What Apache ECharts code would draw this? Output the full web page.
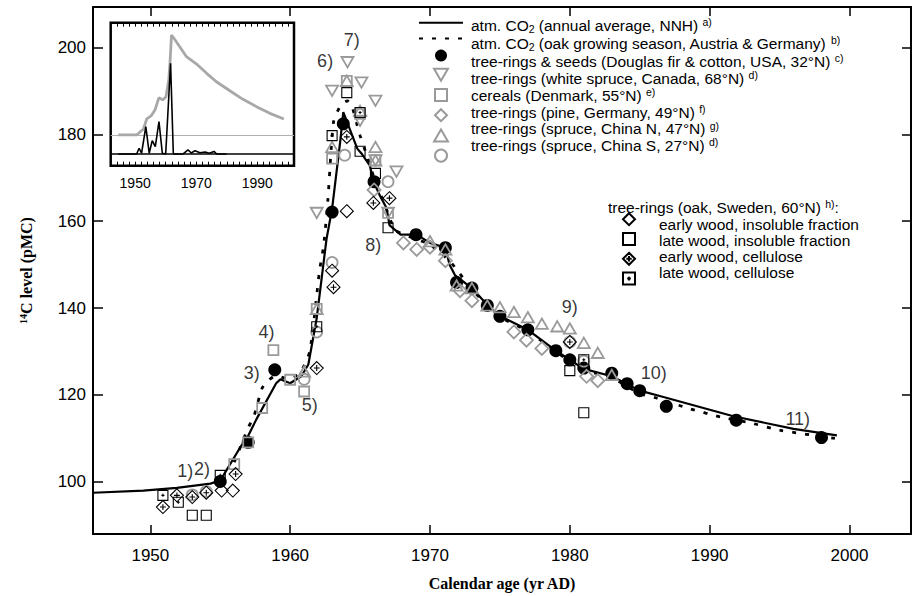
<!DOCTYPE html>
<html><head><meta charset="utf-8">
<script src="https://cdn.jsdelivr.net/npm/echarts@6/dist/echarts.min.js"></script>
<style>html,body{margin:0;padding:0;background:#fff}#c{width:912px;height:596px}</style>
</head><body><div id="c"></div>
<script>
// ---- tick labels ----
const xTicks = [1950, 1960, 1970, 1980, 1990, 2000];
const yTicks = [100, 120, 140, 160, 180, 200];
const insetXLabels = [1950, 1970, 1990];

// ---- main panel: [year, 14C pMC] ----
const nnhAnnual = [[1945.9,97.5],[1949.5,98.0],[1951.9,98.6],[1954.3,99.6],[1955.0,100.3],[1956.5,108.3],[1957.0,110.6],[1957.6,114.5],[1959.0,122.7],[1959.3,123.6],[1960.0,122.7],[1960.8,124.3],[1961.3,127.0],[1961.9,137.7],[1962.6,155.9],[1963.0,162.9],[1963.6,178.9],[1963.8,185.1],[1964.8,176.7],[1965.1,175.6],[1965.7,172.8],[1965.95,169.2],[1966.4,166.0],[1966.9,163.0],[1967.1,159.1],[1967.9,156.9],[1969.05,156.9],[1970.0,155.0],[1971.1,153.9],[1971.4,150.0],[1971.8,147.5],[1973.0,144.6],[1974.1,140.7],[1975.0,138.2],[1977.0,135.0],[1979.0,130.2],[1980.0,128.1],[1981.0,126.0],[1983.0,124.3],[1985.0,121.0],[1986.5,119.7],[1991.7,115.1],[1996.0,112.2],[1999.1,110.7]];
const oakSeason = [[1956.0,104.5],[1956.5,108.5],[1957.0,112.5],[1957.4,115.0],[1958.0,121.6],[1958.5,123.5],[1959.0,124.5],[1959.5,124.0],[1960.0,123.8],[1960.7,125.0],[1961.4,130.0],[1962.1,148.6],[1962.4,154.5],[1962.7,165.0],[1963.1,182.8],[1963.6,186.6],[1964.1,187.7],[1964.4,186.6],[1964.8,182.0],[1965.0,179.7],[1965.5,175.0],[1966.0,170.0],[1966.8,163.5],[1967.5,158.0],[1968.5,156.5],[1970.0,154.6],[1971.5,150.5],[1973.0,144.3],[1975.0,138.0],[1977.0,134.7],[1979.0,130.0],[1981.0,125.8],[1983.0,124.0],[1985.0,120.3],[1986.2,119.3],[1988.4,117.0],[1990.8,114.9],[1992.9,113.6],[1995.0,111.9],[1999.0,110.0]];
const usaTreeSeeds = [[1955,100.1],[1957,109.1],[1958.9,125.8],[1963,162.1],[1963.8,182.4],[1966,169.1],[1969,156.9],[1971.1,153.9],[1971.9,145.9],[1973,144.6],[1974.1,140.6],[1975,138.1],[1977,135.0],[1979,130.2],[1980,128.1],[1981,126.2],[1983,125.0],[1984.1,122.6],[1985,121.0],[1986.9,117.4],[1991.9,114.2],[1998,110.2]];
const canadaSpruce = [[1964.1,196.6],[1963.0,190.0],[1965.1,191.9],[1966.1,187.7],[1965.0,183.1],[1967.6,171.4],[1961.9,161.9],[1966.1,174.0],[1967.0,161.9]];
const denmarkCereals = [[1956.0,104.1],[1957.0,109.1],[1958.0,117.0],[1958.8,130.3],[1960.0,123.5],[1961.0,120.8],[1961.9,139.8],[1963.0,174.4],[1964.05,192.3],[1965.0,184.7],[1966.1,174.0],[1967.0,161.9]];
const germanyPine = [[1966.0,167.2],[1968.1,155.0],[1969.05,153.5],[1970.0,154.0],[1971.1,150.9],[1972.15,144.0],[1973.0,141.7],[1976.0,134.5],[1976.9,132.6],[1978.0,130.7],[1981.2,124.3],[1982.0,123.3]];
const chinaNSpruce = [[1964.05,192.3],[1963.0,177.1],[1966.1,177.1],[1965.0,185.4],[1966.1,174.0],[1961.9,139.8],[1961.0,125.4],[1970.0,155.4],[1971.1,153.5],[1971.9,145.2],[1973.0,144.6],[1974.1,140.6],[1975.0,140.2],[1976.0,139.1],[1977.0,137.9],[1978.0,136.4],[1979.1,135.8],[1980.0,135.3],[1981.0,132.0],[1982.0,129.7],[1983.0,124.6]];
const chinaSSpruce = [[1963.9,175.2],[1967.0,169.1],[1963.0,150.5],[1961.9,134.5],[1961.0,123.6],[1954.0,97.8],[1953.0,97.0],[1980.0,132.2],[1981.0,127.8]];
const swedenEarlyInsol = [[1955.1,98.0],[1955.9,98.0],[1963.0,148.6],[1964.05,162.3]];
const swedenLateInsol = [[1953.0,92.3],[1954.0,92.3],[1964.05,189.6],[1965.0,176.1],[1966.1,171.0],[1967.0,158.5],[1980.0,125.6],[1981.0,115.9]];
const swedenEarlyCell = [[1950.9,94.2],[1951.9,96.9],[1953.0,96.5],[1954.0,97.5],[1956.1,101.8],[1961.9,126.2],[1963.1,144.8],[1964.05,179.4],[1965.95,164.2],[1967.1,165.3],[1980.0,132.2]];
const swedenLateCell = [[1950.9,96.9],[1952.0,95.3],[1955.0,101.5],[1961.9,135.7],[1963.0,179.7],[1965.0,185.0],[1981.0,128.1]];
const notes = [[1952.5,102.6,'1)'],[1953.7,103.0,'2)'],[1957.25,125.0,'3)'],[1958.3,134.5,'4)'],[1961.4,117.8,'5)'],[1962.5,196.8,'6)'],[1964.4,201.8,'7)'],[1965.95,154.6,'8)'],[1980.0,140.2,'9)'],[1986.0,125.0,'10)'],[1996.3,114.5,'11)']];

// ---- inset: [year, relative level] ----
const insetAtmos = [[1944.5,21.5],[1950.5,21.5],[1951.6,23.6],[1952.7,25.5],[1953.8,32.7],[1955.2,34.8],[1956.5,39.0],[1957.8,47.6],[1959.0,46.0],[1960.1,48.3],[1961.0,59.9],[1961.4,71.6],[1961.9,91.4],[1962.7,89.1],[1964.6,83.2],[1966.8,76.2],[1970.1,71.1],[1973.4,64.6],[1976.6,58.7],[1981.0,52.4],[1985.3,46.4],[1989.7,41.3],[1994.1,36.6],[1998.7,32.7]];
const insetTests = [[1944.5,8.2],[1950.5,8.2],[1951.3,12.2],[1952.1,8.7],[1953.5,27.3],[1954.6,8.7],[1955.6,17.5],[1956.6,13.3],[1957.8,30.8],[1958.9,8.7],[1960.0,8.2],[1961.6,71.6],[1962.5,8.2],[1965.7,8.2],[1967.3,11.0],[1968.4,8.9],[1969.6,10.5],[1971.2,9.1],[1972.9,9.6],[1974.3,8.7],[1975.8,10.0],[1976.7,8.2],[1979.9,8.2]];
const insetAtmosBase = 21.5;
const insetTestsBase = 8.2;

// ---- names ----
const N = {
  nnh: 'atm. CO2 (annual average, NNH) a)',
  oak: 'atm. CO2 (oak growing season, Austria & Germany) b)',
  usa: 'tree-rings & seeds (Douglas fir & cotton, USA, 32°N) c)',
  can: 'tree-rings (white spruce, Canada, 68°N) d)',
  den: 'cereals (Denmark, 55°N) e)',
  ger: 'tree-rings (pine, Germany, 49°N) f)',
  chn: 'tree-rings (spruce, China N, 47°N) g)',
  chs: 'tree-rings (spruce, China S, 27°N) d)',
  s1: 'early wood, insoluble fraction',
  s2: 'late wood, insoluble fraction',
  s3: 'early wood, cellulose',
  s4: 'late wood, cellulose'
};
const legend1Names = [N.nnh, N.oak, N.usa, N.can, N.den, N.ger, N.chn, N.chs];
const legend2Names = [N.s1, N.s2, N.s3, N.s4];

const SANS = 'Liberation Sans, Arial, Helvetica, sans-serif';
const SERIF = 'Liberation Serif, Times New Roman, serif';
const GRAY = '#9a9a9a';
const SQ = 'path://M0,0L20,0L20,20L0,20Z';
const DIA = 'path://M10,0L20,10L10,20L0,10Z';
const TRI_UP = 'path://M10,0L20,17.3L0,17.3Z';
const TRI_DOWN = 'path://M0,0L20,0L10,17.3Z';
const DIA_PLUS = 'path://M10,0L20,10L10,20L0,10Z M10,5.5L10,14.5 M5.5,10L14.5,10';
const SQ_DOT = 'path://M0,0L20,0L20,20L0,20Z M10,7L10,13 M7,10L13,10';

function fmtLegend(name) {
  const m = name.match(/^(.*) ([a-h]\))$/);
  if (!m) return '{t|' + name + '}';
  const base = m[1].replace('CO2', 'CO}{sub|2}{t|');
  return '{t|' + base + ' }{sup|' + m[2] + '}';
}
const FS = 15.5;
function rich(lh) {
  return {
    t: {fontSize: FS, fontFamily: SANS, fontWeight: 'normal', color: '#000', lineHeight: lh},
    sub: {fontSize: 10.5, fontFamily: SANS, fontWeight: 'normal', color: '#000', lineHeight: 6, verticalAlign: 'bottom'},
    sup: {fontSize: 10.5, fontFamily: SANS, fontWeight: 'normal', color: '#000', lineHeight: 7, verticalAlign: 'top'}
  };
}
function iconLegend(names, left, top, w, gap) {
  return {
    orient: 'vertical', left, top, itemWidth: w, itemHeight: 12, itemGap: gap,
    selectedMode: false, padding: 0,
    data: names.map(n => (n === N.nnh || n === N.oak) ? {name: n, itemStyle: {opacity: 0}} : {name: n}),
    formatter: () => '', textStyle: {fontSize: 1, lineHeight: 1}
  };
}
function textLegend(names, left, top, lh) {
  return {
    orient: 'vertical', left, top, itemWidth: 2, itemHeight: 2, itemGap: 0,
    selectedMode: false, padding: 0,
    data: names.map(n => ({name: n, itemStyle: {opacity: 0}, lineStyle: {opacity: 0}})),
    formatter: fmtLegend, textStyle: {rich: rich(lh)}
  };
}

function scatter(name, data, symbol, size, stroke, width, fill, z) {
  return {
    name, type: 'scatter', data, symbol, symbolSize: size, symbolKeepAspect: true,
    xAxisIndex: 0, yAxisIndex: 0, z: z || 3,
    itemStyle: {color: fill || 'rgba(255,255,255,0)', borderColor: stroke, borderWidth: width, opacity: 1},
    emphasis: {disabled: true}, silent: true
  };
}
const yearFmt = v => String(v);
const LH = 17.8;

const chart = echarts.init(document.getElementById('c'), null, {renderer: 'svg'});
const option = {
  backgroundColor: '#fff',
  animation: false,
  grid: [
    {left: 93, top: 7, right: 1, bottom: 57, show: false},
    {left: 110.7, top: 22.7, width: 183.3, height: 143, show: true, borderColor: '#000', borderWidth: 2.5, backgroundColor: '#fff', z: 5}
  ],
  title: [{
    text: '{t|tree-rings (oak, Sweden, 60°N) }{sup|h)}{t|:}',
    left: 608, top: 207.4 - LH / 2, padding: 0,
    textStyle: {rich: rich(LH)}
  }],
  legend: [
    iconLegend(legend1Names, 418, 18, 44, 6.2),
    textLegend(legend1Names, 463, 25.7 - LH / 2, LH),
    iconLegend(legend2Names, 622, 212.2, 12, LH - 12),
    textLegend(legend2Names, 651, 225.2 - LH / 2, LH)
  ],
  xAxis: [
    {
      gridIndex: 0, type: 'value', min: 1945.9, max: 2004.4, position: 'bottom',
      name: 'Calendar age (yr AD)', nameLocation: 'middle', nameGap: 41,
      nameTextStyle: {fontFamily: SERIF, fontWeight: 'bold', fontSize: 16, color: '#000'},
      axisLine: {onZero: false, lineStyle: {color: '#000', width: 2}},
      axisTick: {inside: true, length: 9, customValues: xTicks, lineStyle: {color: '#000', width: 1.5}},
      axisLabel: {customValues: xTicks, formatter: yearFmt, fontSize: 17, fontFamily: SANS, color: '#000', margin: 13},
      splitLine: {show: false}
    },
    {
      gridIndex: 0, type: 'value', min: 1945.9, max: 2004.4, position: 'top',
      axisLine: {onZero: false, lineStyle: {color: '#000', width: 2}},
      axisTick: {inside: true, length: 9, customValues: xTicks, lineStyle: {color: '#000', width: 1.5}},
      axisLabel: {show: false}, splitLine: {show: false}
    },
    {
      gridIndex: 1, type: 'value', min: 1942, max: 2002, interval: 2, position: 'bottom',
      axisLine: {show: false},
      axisTick: {inside: true, length: 4, lineStyle: {color: '#000', width: 1}},
      axisLabel: {customValues: insetXLabels, formatter: yearFmt, fontSize: 14, fontFamily: SANS, color: '#000', margin: 10},
      splitLine: {show: false}, z: 6
    },
    {
      gridIndex: 1, type: 'value', min: 1942, max: 2002, interval: 2, position: 'top',
      axisLine: {show: false},
      axisTick: {inside: true, length: 4, lineStyle: {color: '#000', width: 1}},
      axisLabel: {show: false}, splitLine: {show: false}, z: 6
    }
  ],
  yAxis: [
    {
      gridIndex: 0, type: 'value', min: 88, max: 209.3, position: 'left',
      name: '{sup|14}{b|C level (pMC)}', nameLocation: 'middle', nameGap: 58, nameRotate: 90,
      nameTextStyle: {
        fontFamily: SERIF, fontWeight: 'bold', fontSize: 16, color: '#000',
        rich: {
          sup: {fontFamily: SERIF, fontWeight: 'bold', fontSize: 10, color: '#000', verticalAlign: 'top', lineHeight: 6},
          b: {fontFamily: SERIF, fontWeight: 'bold', fontSize: 16, color: '#000', lineHeight: 17}
        }
      },
      axisLine: {onZero: false, lineStyle: {color: '#000', width: 2}},
      axisTick: {inside: true, length: 10, customValues: yTicks, lineStyle: {color: '#000', width: 1.5}},
      axisLabel: {customValues: yTicks, formatter: yearFmt, fontSize: 17, fontFamily: SANS, color: '#000', margin: 7},
      splitLine: {show: false}
    },
    {
      gridIndex: 0, type: 'value', min: 88, max: 209.3, position: 'right',
      axisLine: {onZero: false, lineStyle: {color: '#000', width: 2}},
      axisTick: {inside: true, length: 9, customValues: yTicks, lineStyle: {color: '#000', width: 1.5}},
      axisLabel: {show: false}, splitLine: {show: false}
    },
    {gridIndex: 1, type: 'value', min: 0, max: 100, show: false}
  ],
  series: [
    {
      name: N.nnh, type: 'line', data: nnhAnnual, xAxisIndex: 0, yAxisIndex: 0,
      symbol: 'none', lineStyle: {color: '#000', width: 2.2}, itemStyle: {color: '#000'}, z: 2, silent: true
    },
    {
      name: N.oak, type: 'line', data: oakSeason, xAxisIndex: 0, yAxisIndex: 0, smooth: 0.2,
      symbol: 'none', lineStyle: {color: '#000', width: 2.8, type: [4, 9]}, itemStyle: {color: '#000'}, z: 2, silent: true
    },
    scatter(N.usa, usaTreeSeeds, 'circle', 13, '#000', 0, '#000', 3),
    scatter(N.can, canadaSpruce, TRI_DOWN, 12, GRAY, 1.8, null, 4),
    scatter(N.den, denmarkCereals, SQ, 10, GRAY, 1.8, null, 4),
    scatter(N.ger, germanyPine, DIA, 13, GRAY, 1.8, null, 4),
    scatter(N.chn, chinaNSpruce, TRI_UP, 12, GRAY, 1.8, null, 4),
    scatter(N.chs, chinaSSpruce, 'circle', 11, GRAY, 1.8, null, 4),
    scatter(N.s1, swedenEarlyInsol, DIA, 13, '#000', 1.1, null, 5),
    scatter(N.s2, swedenLateInsol, SQ, 10, '#000', 1.1, null, 5),
    scatter(N.s3, swedenEarlyCell, DIA_PLUS, 13, '#000', 1.1, null, 5),
    scatter(N.s4, swedenLateCell, SQ_DOT, 10, '#000', 1.1, null, 5),
    {
      name: 'notes', type: 'scatter', xAxisIndex: 0, yAxisIndex: 0, symbolSize: 1,
      data: notes.map(n => ({value: [n[0], n[1]], name: n[2]})),
      itemStyle: {color: 'rgba(0,0,0,0)'}, silent: true, z: 6,
      label: {show: true, position: 'inside', formatter: '{b}', fontSize: 18, fontFamily: SANS, color: '#000'}
    },
    {
      name: 'inset atmosphere', type: 'line', data: insetAtmos, xAxisIndex: 2, yAxisIndex: 2,
      symbol: 'none', lineStyle: {color: '#a8a8a8', width: 2.8}, z: 7, silent: true,
      markLine: {silent: true, symbol: 'none', label: {show: false},
        lineStyle: {color: '#b0b0b0', width: 1, type: 'solid'}, data: [{yAxis: insetAtmosBase}]}
    },
    {
      name: 'inset tests', type: 'line', data: insetTests, xAxisIndex: 2, yAxisIndex: 2,
      symbol: 'none', lineStyle: {color: '#000', width: 1.6}, z: 8, silent: true,
      markLine: {silent: true, symbol: 'none', label: {show: false},
        lineStyle: {color: '#000', width: 1.6, type: 'solid'}, data: [{yAxis: insetTestsBase}]}
    }
  ]
};
chart.setOption(option);
</script>
</body></html>
